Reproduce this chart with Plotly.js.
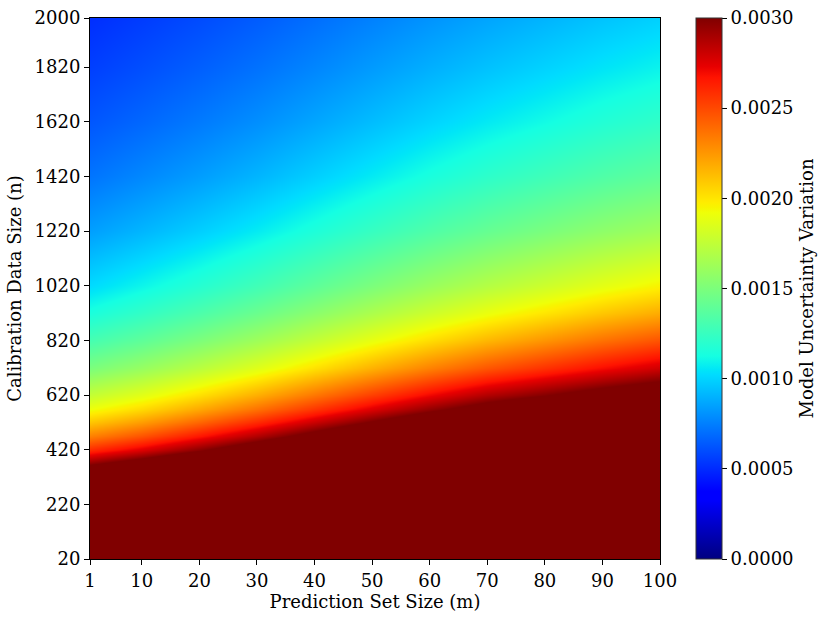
<!DOCTYPE html>
<html>
<head>
<meta charset="utf-8">
<script src="https://cdn.plot.ly/plotly-3.0.1.min.js"></script>
<style>
html,body{margin:0;padding:0;background:#fff;}
#chart{width:830px;height:623px;}
</style>
</head>
<body>
<div id="chart"></div>
<script>
// Prediction set size m (columns) and calibration size n (rows)
const predictionSetSize = [1, 10, 20, 30, 40, 50, 60, 70, 80, 90, 100];
const calibrationSize = [20, 220, 320, 370, 420, 470, 520, 570, 620, 670, 720, 820, 920, 1020, 1220, 1420, 1620, 1820, 2000];

// Model uncertainty variation (values above 0.003 are saturated)
const row_n20   = [54.0e-3, 58.0e-3, 62.5e-3, 67.5e-3, 73.0e-3, 78.5e-3, 84.0e-3, 89.0e-3, 93.5e-3, 98.0e-3, 102.0e-3];
const row_n220  = [4.909e-3, 5.273e-3, 5.682e-3, 6.136e-3, 6.636e-3, 7.136e-3, 7.636e-3, 8.091e-3, 8.500e-3, 8.909e-3, 9.273e-3];
const row_n320  = [3.375e-3, 3.625e-3, 3.906e-3, 4.219e-3, 4.563e-3, 4.906e-3, 5.250e-3, 5.563e-3, 5.844e-3, 6.125e-3, 6.375e-3];
const row_n370  = [2.950e-3, 3.135e-3, 3.378e-3, 3.649e-3, 3.946e-3, 4.243e-3, 4.541e-3, 4.811e-3, 5.054e-3, 5.297e-3, 5.514e-3];
const row_n420  = [2.600e-3, 2.762e-3, 2.976e-3, 3.214e-3, 3.476e-3, 3.738e-3, 4.000e-3, 4.238e-3, 4.452e-3, 4.667e-3, 4.857e-3];
const row_n470  = [2.320e-3, 2.468e-3, 2.660e-3, 2.872e-3, 3.106e-3, 3.340e-3, 3.574e-3, 3.787e-3, 3.979e-3, 4.170e-3, 4.340e-3];
const row_n520  = [2.100e-3, 2.231e-3, 2.404e-3, 2.596e-3, 2.808e-3, 3.019e-3, 3.231e-3, 3.423e-3, 3.596e-3, 3.769e-3, 3.923e-3];
const row_n570  = [1.915e-3, 2.035e-3, 2.193e-3, 2.368e-3, 2.561e-3, 2.754e-3, 2.947e-3, 3.123e-3, 3.281e-3, 3.439e-3, 3.579e-3];
const row_n620  = [1.760e-3, 1.871e-3, 2.016e-3, 2.177e-3, 2.355e-3, 2.532e-3, 2.710e-3, 2.871e-3, 2.990e-3, 3.120e-3, 3.240e-3];
const row_n670  = [1.625e-3, 1.731e-3, 1.866e-3, 2.015e-3, 2.179e-3, 2.343e-3, 2.507e-3, 2.657e-3, 2.775e-3, 2.890e-3, 3.000e-3];
const row_n720  = [1.495e-3, 1.597e-3, 1.722e-3, 1.861e-3, 2.014e-3, 2.167e-3, 2.319e-3, 2.458e-3, 2.575e-3, 2.690e-3, 2.795e-3];
const row_n820  = [1.300e-3, 1.390e-3, 1.500e-3, 1.622e-3, 1.756e-3, 1.890e-3, 2.024e-3, 2.146e-3, 2.256e-3, 2.366e-3, 2.463e-3];
const row_n920  = [1.145e-3, 1.228e-3, 1.326e-3, 1.435e-3, 1.554e-3, 1.674e-3, 1.793e-3, 1.902e-3, 2.000e-3, 2.098e-3, 2.185e-3];
const row_n1020 = [1.020e-3, 1.098e-3, 1.186e-3, 1.284e-3, 1.392e-3, 1.500e-3, 1.608e-3, 1.706e-3, 1.794e-3, 1.882e-3, 1.961e-3];
const row_n1220 = [0.844e-3, 0.910e-3, 0.984e-3, 1.066e-3, 1.156e-3, 1.246e-3, 1.336e-3, 1.418e-3, 1.492e-3, 1.566e-3, 1.631e-3];
const row_n1420 = [0.718e-3, 0.775e-3, 0.838e-3, 0.908e-3, 0.986e-3, 1.063e-3, 1.141e-3, 1.211e-3, 1.275e-3, 1.338e-3, 1.394e-3];
const row_n1620 = [0.630e-3, 0.679e-3, 0.735e-3, 0.796e-3, 0.864e-3, 0.932e-3, 1.000e-3, 1.062e-3, 1.117e-3, 1.173e-3, 1.222e-3];
const row_n1820 = [0.560e-3, 0.604e-3, 0.654e-3, 0.709e-3, 0.769e-3, 0.830e-3, 0.890e-3, 0.945e-3, 0.995e-3, 1.044e-3, 1.088e-3];
const row_n2000 = [0.510e-3, 0.550e-3, 0.595e-3, 0.645e-3, 0.700e-3, 0.755e-3, 0.810e-3, 0.860e-3, 0.905e-3, 0.950e-3, 0.990e-3];

const uncertainty = [row_n20, row_n220, row_n320, row_n370, row_n420, row_n470, row_n520, row_n570,
  row_n620, row_n670, row_n720, row_n820, row_n920, row_n1020, row_n1220, row_n1420, row_n1620, row_n1820, row_n2000];

const xTicks = [1, 10, 20, 30, 40, 50, 60, 70, 80, 90, 100];
const yTicks = [20, 220, 420, 620, 820, 1020, 1220, 1420, 1620, 1820, 2000];
const cbTicks = [0, 0.0005, 0.001, 0.0015, 0.002, 0.0025, 0.003];

// matplotlib "jet"
const jet = [
  [0.0, 'rgb(0,0,128)'], [0.11, 'rgb(0,0,255)'], [0.125, 'rgb(0,0,255)'],
  [0.34, 'rgb(0,219,255)'], [0.35, 'rgb(0,230,247)'], [0.375, 'rgb(21,255,226)'],
  [0.64, 'rgb(239,255,8)'], [0.65, 'rgb(247,245,0)'], [0.66, 'rgb(255,236,0)'],
  [0.89, 'rgb(255,19,0)'], [0.91, 'rgb(232,0,0)'], [1.0, 'rgb(128,0,0)']
];

const FONT = 'DejaVu Serif, serif';

const trace = {
  type: 'heatmap',
  x: predictionSetSize,
  y: calibrationSize,
  z: uncertainty,
  zmin: 0, zmax: 0.003, zauto: false,
  zsmooth: 'best',
  colorscale: jet,
  hoverinfo: 'skip',
  colorbar: {
    x: (696 - 90) / 570, xanchor: 'left', xpad: 0,
    y: 0.5, yanchor: 'middle', len: 1, lenmode: 'fraction', ypad: 0,
    thickness: 26, thicknessmode: 'pixels',
    outlinewidth: 1, outlinecolor: '#333',
    tickmode: 'array', tickvals: cbTicks, tickformat: '.4f',
    ticks: 'outside', ticklen: 5, tickwidth: 1, tickcolor: '#000',
    tickfont: {family: FONT, size: 18, color: '#000'},
    title: {text: 'Model Uncertainty Variation', side: 'right', font: {family: FONT, size: 18, color: '#000'}}
  }
};

const layout = {
  width: 830, height: 623,
  margin: {l: 90, r: 170, t: 18, b: 64, pad: 0},
  paper_bgcolor: '#fff', plot_bgcolor: '#fff',
  font: {family: FONT, color: '#000'},
  xaxis: {
    range: [1, 100], tickmode: 'array', tickvals: xTicks,
    ticks: 'outside', ticklen: 5, tickwidth: 1, tickcolor: '#000',
    showline: true, mirror: true, linecolor: '#000', linewidth: 1,
    showgrid: false, zeroline: false,
    tickfont: {family: FONT, size: 18, color: '#000'},
    title: {text: 'Prediction Set Size (m)', font: {family: FONT, size: 18, color: '#000'}, standoff: 4}
  },
  yaxis: {
    range: [20, 2000], tickmode: 'array', tickvals: yTicks,
    ticks: 'outside', ticklen: 5, tickwidth: 1, tickcolor: '#000',
    showline: true, mirror: true, linecolor: '#000', linewidth: 1,
    showgrid: false, zeroline: false,
    tickfont: {family: FONT, size: 18, color: '#000'},
    title: {text: 'Calibration Data Size (n)', font: {family: FONT, size: 18, color: '#000'}, standoff: 8}
  }
};

Plotly.newPlot('chart', [trace], layout, {displayModeBar: false, staticPlot: true});
</script>
</body>
</html>
